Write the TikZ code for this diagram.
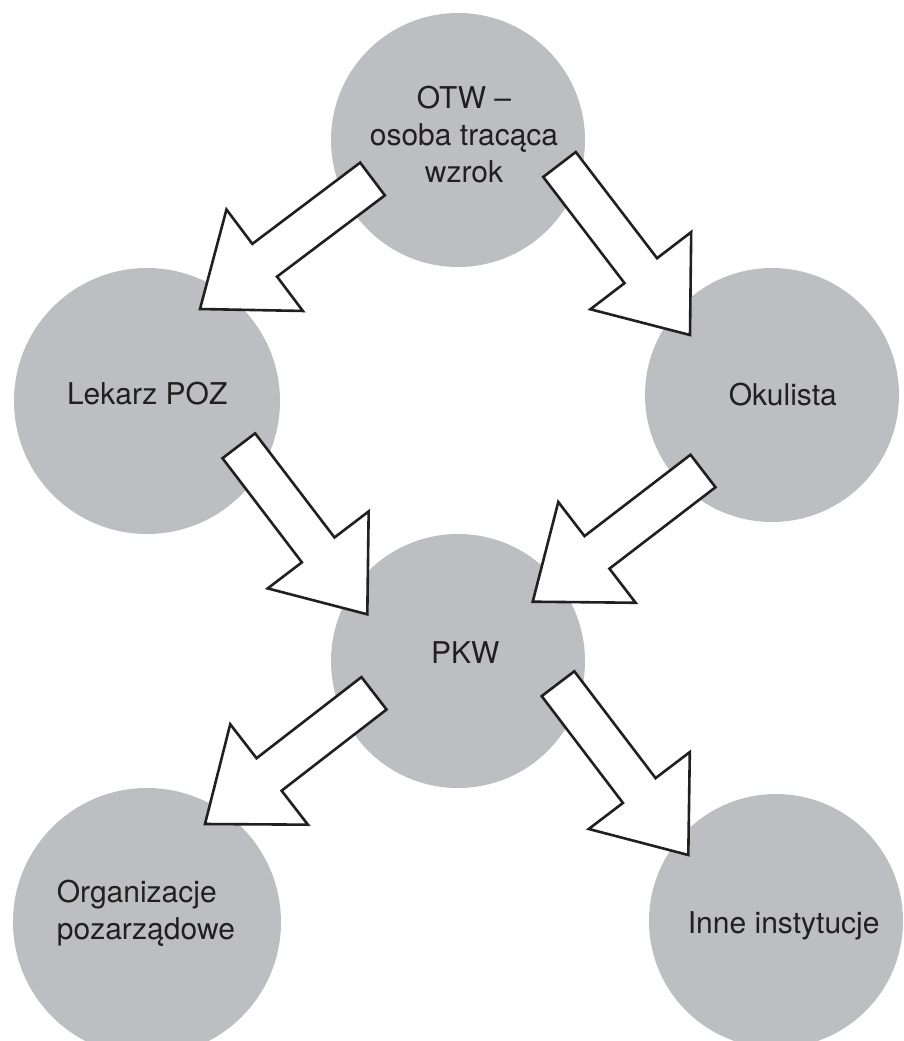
\documentclass[tikz,border=0pt]{standalone}
\usepackage{fontspec}
\setmainfont{TeX Gyre Heros}
\usetikzlibrary{calc}
\definecolor{circgray}{RGB}{189,190,194}
\definecolor{ink}{RGB}{35,31,32}
\newcommand\blockarrow[2]{%
  \coordinate (hb) at ($(#2)!81pt!(#1)$);
  \draw[blockarr]
    ($(#1)!20.5pt!90:(#2)$) --
    ($(hb)!20.5pt!90:(#2)$) --
    ($(hb)!63.5pt!90:(#2)$) --
    (#2) --
    ($(hb)!63.5pt!-90:(#2)$) --
    ($(hb)!20.5pt!-90:(#2)$) --
    ($(#1)!20.5pt!-90:(#2)$) -- cycle;
}
\begin{document}
\begin{tikzpicture}[x=1pt,y=-1pt,
  circ/.style={circle,fill=circgray,draw=none,inner sep=0pt,minimum size=#1},
  lbl/.style={font=\fontsize{30}{37}\selectfont,text=ink,inner sep=0pt},
  blockarr/.style={draw=ink,fill=white,line width=2.6pt,line join=miter}]
\useasboundingbox (0,0) rectangle (904,1041);
\clip (0,0) rectangle (904,1041);
% circles
\node[circ=254pt] (otw) at (458,140) {};
\node[circ=266pt] (lek) at (147,401) {};
\node[circ=254pt] (oku) at (772,395) {};
\node[circ=254pt] (pkw) at (458,661) {};
\node[circ=268pt] (org) at (147,922) {};
\node[circ=254pt] (inne) at (776,921) {};
% arrow end points
\coordinate (a1s) at (372.5,179);   \coordinate (a1e) at (200,309);
\coordinate (a2s) at (559.5,164.5); \coordinate (a2e) at (690,335);
\coordinate (a3s) at (238.8,445.8); \coordinate (a3e) at (367.3,614.3);
\coordinate (a4s) at (703,471);     \coordinate (a4e) at (532.7,601.7);
\coordinate (a5s) at (374,693.3);   \coordinate (a5e) at (205,824);
\coordinate (a6s) at (558,683.7);   \coordinate (a6e) at (688.3,855);
\blockarrow{a1s}{a1e}
\blockarrow{a2s}{a2e}
\blockarrow{a3s}{a3e}
\blockarrow{a4s}{a4e}
\blockarrow{a5s}{a5e}
\blockarrow{a6s}{a6e}
% labels
\node[lbl,align=center] (otwt) at (464,134.5) {OTW –\\osoba tracąca\\wzrok};
\node[lbl,anchor=base] (lekt) at (147.2,404) {Lekarz POZ};
\node[lbl,anchor=base] (okut) at (782.8,405) {Okulista};
\node[lbl,anchor=base] (pkwt) at (465.2,663.3) {PKW};
\node[lbl,anchor=base] (innet) at (783.7,933.3) {Inne instytucje};
\node[lbl,align=left,anchor=west] (orgt) at (56.7,913.7) {Organizacje\\pozarządowe};
\end{tikzpicture}
\end{document}
